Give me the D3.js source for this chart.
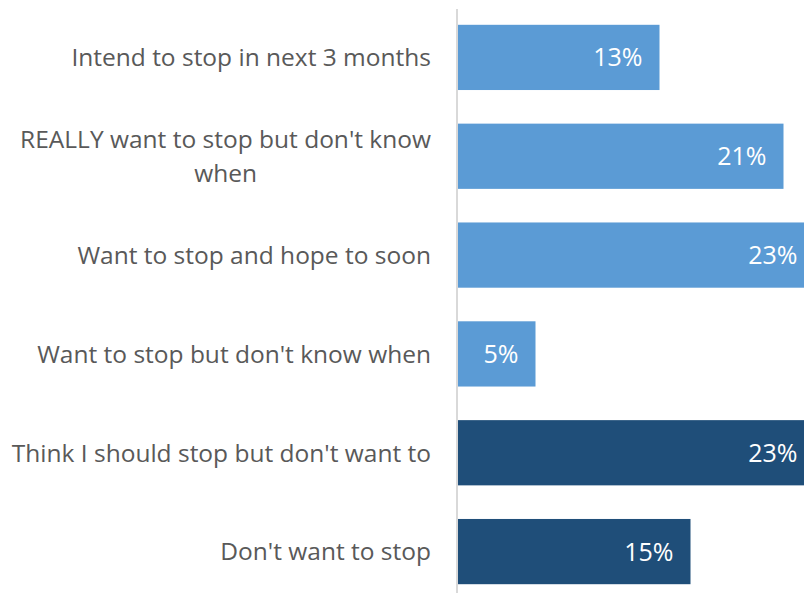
<!DOCTYPE html>
<html><head><meta charset="utf-8">
<script src="https://cdn.jsdelivr.net/npm/d3@7"></script>
<style>
html,body{margin:0;padding:0;background:#fff;overflow:hidden;}
svg{display:block;}
</style></head>
<body>
<svg id="chart" width="804" height="593"></svg>
<script>
const categories = [
  "Intend to stop in next 3 months",
  "REALLY want to stop but don't know when",
  "Want to stop and hope to soon",
  "Want to stop but don't know when",
  "Think I should stop but don't want to",
  "Don't want to stop"
];
const values = [0.13, 0.21, 0.23, 0.05, 0.23, 0.15];
const groups = ["want", "want", "want", "want", "notwant", "notwant"];
const colors = {want: "#5B9BD5", notwant: "#1F4E79"};

const svg = d3.select("#chart");
const font = "'Open Sans', sans-serif";
const labelSize = "24.5px", valSize = "25px";

const y = d3.scaleBand().domain(categories).range([8, 601]).paddingInner(0.34).paddingOuter(0.17);
const x = d3.scaleLinear().domain([0, 0.25]).range([458, 845.5]);

svg.selectAll("rect.bar").data(categories).enter().append("rect")
  .attr("class","bar")
  .attr("x", x(0))
  .attr("y", d => y(d))
  .attr("width", (d,i) => x(values[i]) - x(0))
  .attr("height", y.bandwidth())
  .attr("fill", (d,i) => colors[groups[i]]);

// axis line
svg.append("line").attr("x1",457).attr("x2",457).attr("y1",9).attr("y2",593)
  .attr("stroke","#d9d9d9").attr("stroke-width",2);

// value labels
svg.selectAll("text.val").data(categories).enter().append("text")
  .attr("class","val")
  .attr("x", (d,i) => Math.min(x(values[i]), 804 + 17) - 17)
  .attr("y", d => y(d) + y.bandwidth()/2)
  .attr("dy","0.36em")
  .attr("text-anchor","end")
  .attr("fill","#fff")
  .style("font-family", font).style("font-size", valSize)
  .text((d,i) => Math.round(values[i]*100) + "%");

// category labels with wrapping
const maxW = 425, lineH = 34;
categories.forEach((c) => {
  const t = svg.append("text")
    .style("font-family", font).style("font-size", labelSize).attr("fill","#595959");
  const words = c.split(" ");
  let lines = [], cur = [];
  const probe = svg.append("text").style("font-family", font).style("font-size", labelSize);
  words.forEach(w => {
    cur.push(w);
    probe.text(cur.join(" "));
    if (probe.node().getComputedTextLength() > maxW && cur.length > 1) {
      cur.pop(); lines.push(cur.join(" ")); cur = [w];
    }
  });
  lines.push(cur.join(" "));
  probe.text(lines[0]);
  const w0 = probe.node().getComputedTextLength();
  probe.remove();
  const cy = y(c) + y.bandwidth()/2;
  const cx = lines.length > 1 ? 431 - w0/2 : 431;
  t.attr("text-anchor", lines.length > 1 ? "middle" : "end");
  lines.forEach((l, k) => {
    t.append("tspan").attr("x", cx)
      .attr("y", cy + (k - (lines.length-1)/2) * lineH)
      .attr("dy","0.36em").text(l);
  });
});
</script>
</body></html>
